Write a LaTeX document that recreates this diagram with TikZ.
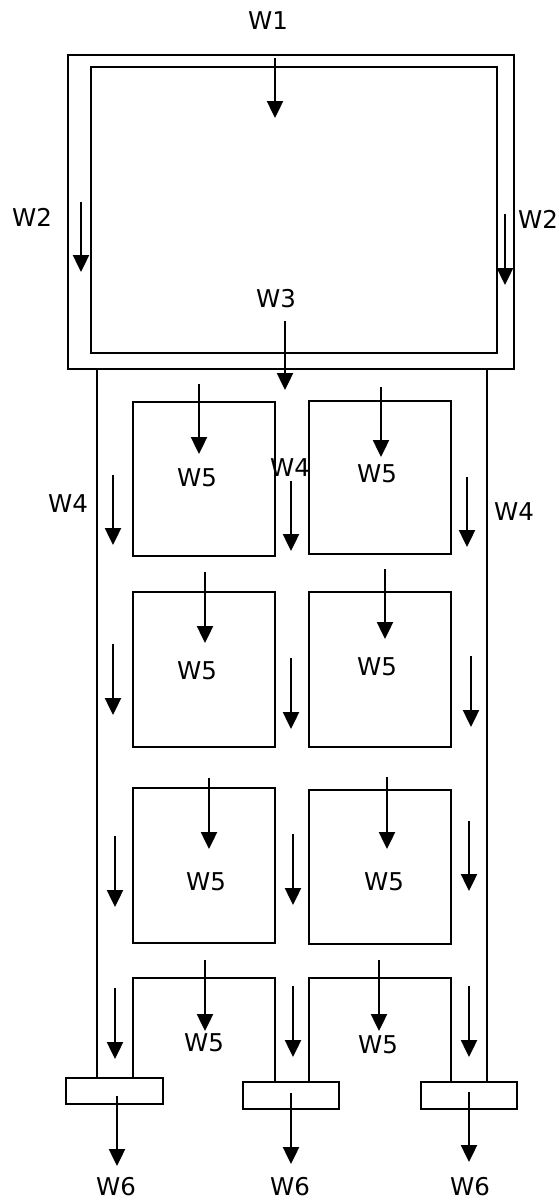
\documentclass[tikz,border=0pt]{standalone}
\usepackage{fontspec}
\setmainfont{DejaVu Sans}
\usetikzlibrary{arrows.meta}
\begin{document}
\begin{tikzpicture}[x=1pt,y=-1pt,
  wall/.style={line width=2pt},
  arr/.style={line width=2.4pt,-{Triangle[width=16pt,length=17pt]}},
  lbl/.style={font=\fontsize{24.5}{28}\selectfont, inner sep=0pt}]
\useasboundingbox (0,0) rectangle (558,1200);
% top chamber
\draw[wall] (68,55) rectangle (514,369);
\draw[wall] (91,67) rectangle (497,353);
% outer verticals
\draw[wall] (97,369) -- (97,1078);
\draw[wall] (487,369) -- (487,1082);
% boxes
\draw[wall] (133,402) rectangle (275,556);
\draw[wall] (309,401) rectangle (451,554);
\draw[wall] (133,592) rectangle (275,747);
\draw[wall] (309,592) rectangle (451,747);
\draw[wall] (133,788) rectangle (275,943);
\draw[wall] (309,790) rectangle (451,944);
% U shapes
\draw[wall] (133,1078) -- (133,978) -- (275,978) -- (275,1082);
\draw[wall] (309,1082) -- (309,978) -- (451,978) -- (451,1082);
% bottom outlets
\draw[wall] (66,1078) rectangle (163,1104);
\draw[wall] (243,1082) rectangle (339,1109);
\draw[wall] (421,1082) rectangle (517,1109);
% arrows top
\draw[arr] (275,58) -- (275,118);
\draw[arr] (81,202) -- (81,272);
\draw[arr] (505,214) -- (505,285);
\draw[arr] (285,321) -- (285,390);
% arrows into boxes
\draw[arr] (199,384) -- (199,454);
\draw[arr] (381,387) -- (381,457);
\draw[arr] (205,572) -- (205,643);
\draw[arr] (385,569) -- (385,639);
\draw[arr] (209,778) -- (209,849);
\draw[arr] (387,777) -- (387,849);
\draw[arr] (205,960) -- (205,1031);
\draw[arr] (379,960) -- (379,1031);
% column arrows
\draw[arr] (113,475) -- (113,545);
\draw[arr] (291,481) -- (291,551);
\draw[arr] (467,477) -- (467,547);
\draw[arr] (113,644) -- (113,715);
\draw[arr] (291,658) -- (291,729);
\draw[arr] (471,656) -- (471,727);
\draw[arr] (115,836) -- (115,907);
\draw[arr] (293,834) -- (293,905);
\draw[arr] (469,821) -- (469,891);
\draw[arr] (115,988) -- (115,1059);
\draw[arr] (293,986) -- (293,1057);
\draw[arr] (469,986) -- (469,1057);
% outlet arrows
\draw[arr] (117,1096) -- (117,1166);
\draw[arr] (291,1093) -- (291,1164);
\draw[arr] (469,1092) -- (469,1162);
% labels
\node[lbl] (w1) at (268,21) {W1};
\node[lbl] (w2a) at (32,217) {W2};
\node[lbl] (w2b) at (538,219) {W2};
\node[lbl] (w3) at (276,299) {W3};
\node[lbl] (w4a) at (68,504) {W4};
\node[lbl] (w4b) at (290,468) {W4};
\node[lbl] (w4c) at (514,512) {W4};
\node[lbl] (w5a) at (197,478) {W5};
\node[lbl] (w5b) at (377,474) {W5};
\node[lbl] (w5c) at (197,671) {W5};
\node[lbl] (w5d) at (377,667) {W5};
\node[lbl] (w5e) at (206,882) {W5};
\node[lbl] (w5f) at (384,882) {W5};
\node[lbl] (w5g) at (204,1043) {W5};
\node[lbl] (w5h) at (378,1045) {W5};
\node[lbl] (w6a) at (116,1187) {W6};
\node[lbl] (w6b) at (290,1187) {W6};
\node[lbl] (w6c) at (470,1187) {W6};
\end{tikzpicture}
\end{document}
